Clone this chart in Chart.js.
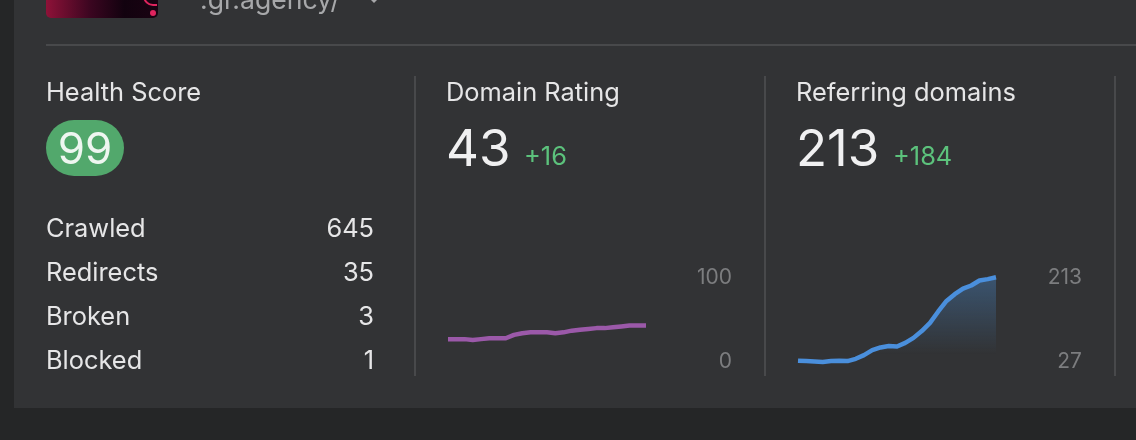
<!DOCTYPE html>
<html>
<head>
<meta charset="utf-8">
<script src="https://cdn.jsdelivr.net/npm/chart.js@4"></script>
<style>
    html, body { margin: 0; padding: 0; width: 1136px; height: 440px; overflow: hidden; background: #252627; }
    body { font-family: Inter, sans-serif; color: #e6e6e7; }
    #panel { position: absolute; left: 14px; top: -10px; width: 1122px; height: 418px; background: #323335; }
    .abs { position: absolute; white-space: nowrap; }
    .title { font-size: 25.4px; line-height: 30px; top: 77px; }
    .big { font-size: 51px; line-height: 60px; top: 118px; color: #f0f0f1; }
    .delta { font-size: 25.4px; line-height: 30px; top: 141px; color: #5cc27c; }
    .row { left: 46px; font-size: 25.4px; line-height: 30px; }
    .num { right: 762px; font-size: 25.4px; line-height: 30px; }
    .vline { position: absolute; top: 76px; height: 300px; width: 2px; background: #48494b; }
    #hline { position: absolute; left: 46px; top: 44px; width: 1090px; height: 2px; background: #48494b; }
    #thumb { position: absolute; left: 46px; top: -20px; width: 112px; height: 38px; border-radius: 5px; background: linear-gradient(90deg, #8e1238 0%, #3a0620 40%, #12020f 70%, #1a0312 100%); }
    #dot { position: absolute; left: 150px; top: 10px; width: 6px; height: 6px; border-radius: 50%; background: #e0245e; }
    #ring { position: absolute; left: 143px; top: -6px; width: 12px; height: 10px; border: 2px solid #e0245e; border-top: 0; border-right: 0; border-radius: 0 0 0 10px; }
    #site { left: 200px; top: -16px; font-size: 26.6px; line-height: 30px; color: #a7a8aa; }
    #caret { position: absolute; left: 369px; top: -2px; width: 0; height: 0; border-left: 5px solid transparent; border-right: 5px solid transparent; border-top: 5px solid #a7a8aa; }
    #badge { position: absolute; left: 46px; top: 120px; width: 78px; height: 56px; border-radius: 28px; background: #52a86c; color: #eef6f0; font-size: 44px; line-height: 56px; text-align: center; }
    canvas { position: absolute; }
</style>
</head>
<body>
<div id="panel"></div>
<div id="thumb"></div><div id="ring"></div><div id="dot"></div>
<div class="abs" id="site">.gr.agency/</div>
<div id="caret"></div>
<div id="hline"></div>

<div class="abs title" style="left:46px">Health Score</div>
<div id="badge">99</div>
<div class="abs row" style="top:213px">Crawled</div><div class="abs num" style="top:213px">645</div>
<div class="abs row" style="top:257px">Redirects</div><div class="abs num" style="top:257px">35</div>
<div class="abs row" style="top:301px">Broken</div><div class="abs num" style="top:301px">3</div>
<div class="abs row" style="top:345px">Blocked</div><div class="abs num" style="top:345px">1</div>
<div class="vline" style="left:414px"></div>

<div class="abs title" style="left:446px">Domain Rating</div>
<div class="abs big" style="left:446px">43</div>
<div class="abs delta" style="left:524px">+16</div>
<div class="vline" style="left:764px"></div>

<div class="abs title" style="left:796px">Referring domains</div>
<div class="abs big" style="left:796px">213</div>
<div class="abs delta" style="left:893px">+184</div>
<div class="vline" style="left:1114px"></div>

<canvas id="drChart" width="300" height="120" style="left:440px;top:260px;width:300px;height:120px"></canvas>
<canvas id="rdChart" width="300" height="120" style="left:790px;top:260px;width:300px;height:120px"></canvas>

<script>
    // Values
    const periods = ['1', '2', '3', '4', '5', '6', '7', '8', '9', '10', '11', '12', '13',
        '14', '15', '16', '17', '18', '19', '20', '21', '22', '23', '24', '25'];
    const domainRating = [27, 27, 27, 26, 27, 28, 28, 28, 32, 34, 35, 35, 35, 34, 35, 37, 38, 39, 40, 40, 41, 42, 43, 43, 43];
    const referringDomains = [30, 29, 28, 27, 29, 30, 29, 34, 42, 53, 59, 62, 61, 69, 80, 95, 113, 138, 161, 176, 188, 195, 206, 209, 213];
    const domainRatingTicks = [0, 100];
    const referringDomainsTicks = [27, 213];

    Chart.defaults.font.family = 'Inter, sans-serif';

    function sparkline(id, values, tickValues, color, fill) {
        return new Chart(document.getElementById(id), {
            type: 'line',
            data: {
                labels: periods,
                datasets: [{
                    data: values,
                    borderColor: color,
                    borderWidth: 4.5,
                    borderJoinStyle: 'round',
                    pointRadius: 0,
                    tension: 0,
                    clip: false,
                    fill: fill ? 'start' : false,
                    backgroundColor: function(context) {
                        const area = context.chart.chartArea;
                        if (!area) return 'transparent';
                        const gradient = context.chart.ctx.createLinearGradient(0, area.top, 0, area.bottom - 8);
                        gradient.addColorStop(0, 'rgba(74, 144, 217, 0.36)');
                        gradient.addColorStop(1, 'rgba(74, 144, 217, 0)');
                        return gradient;
                    }
                }]
            },
            options: {
                responsive: false,
                animation: false,
                layout: { padding: { left: 8, top: 17.3, bottom: 18, right: 8 } },
                plugins: { legend: { display: false }, tooltip: { enabled: false } },
                scales: {
                    x: { display: false },
                    y: {
                        position: 'right',
                        min: tickValues[0],
                        max: tickValues[1],
                        border: { display: false },
                        grid: { display: false },
                        afterBuildTicks: function(axis) {
                            axis.ticks = tickValues.map(v => ({ value: v }));
                        },
                        afterFit: function(axis) { axis.width = 86; },
                        ticks: {
                            color: '#7c7d7f',
                            font: { size: 21 },
                            padding: 0,
                            crossAlign: 'far',
                            labelOffset: 0
                        }
                    }
                }
            }
        });
    }

    sparkline('drChart', domainRating, domainRatingTicks, '#9b59a9', false);
    sparkline('rdChart', referringDomains, referringDomainsTicks, '#4a8fdc', true);
</script>
</body>
</html>
